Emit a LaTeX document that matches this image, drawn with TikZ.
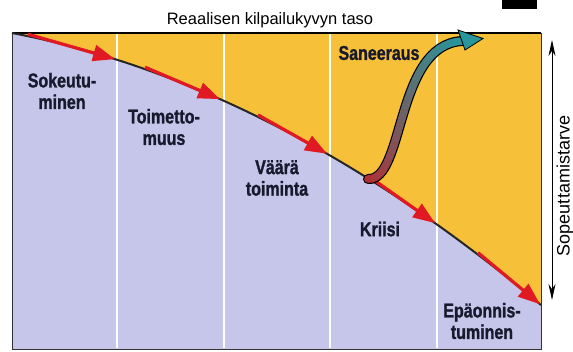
\documentclass[tikz,border=0pt]{standalone}
\usepackage{fontspec}
\setmainfont{Liberation Sans}
\newfontfamily\lblfont{Liberation Sans}[FakeStretch=0.8,FakeBold=1.2]
\newfontfamily\regfont{Liberation Sans}
\usetikzlibrary{arrows.meta}
\definecolor{bgyellow}{RGB}{246,192,56}
\definecolor{bglav}{RGB}{198,198,234}
\definecolor{arrred}{RGB}{225,25,35}
\definecolor{sanred}{RGB}{180,45,50}
\definecolor{santeal}{RGB}{40,150,155}
\definecolor{txtdark}{RGB}{25,25,45}
\tikzset{
  lbl/.style={font=\lblfont\bfseries\fontsize{20}{21.5}\selectfont, align=center, text=txtdark, inner sep=0pt},
  reglbl/.style={font=\regfont\fontsize{16.5}{18}\selectfont, text=black, inner sep=0pt},
  redarrow/.style={draw=arrred, line width=3.2pt, -{Triangle[length=22pt,width=16pt]}},
  colline/.style={white, line width=2pt}
}
\begin{document}
\begin{tikzpicture}[x=1pt,y=-1pt,
  declare function={cy(\t)=33+0.1906*(\t-12)+(0.02473*(\t-12))^2;}]
\useasboundingbox (0,0) rectangle (573,351);
\fill[white] (0,0) rectangle (573,351);
% page-number box (cut off)
\fill[black] (502,0) rectangle (537,9);
% backgrounds
\fill[bgyellow] (12,33) rectangle (541,349);
\fill[bglav] (12,33) -- plot[domain=12:541,samples=70] (\x,{cy(\x)}) -- (541,349) -- (12,349) -- cycle;
% column separators
\foreach \cx in {117,224,330,437} \draw[colline] (\cx,34) -- (\cx,348);
% frame
\draw[black!80, line width=0.8pt] (12,33) rectangle (541,349);
\draw[black, line width=1.6pt] (12,33) -- (541,33);
% decline curve
\draw[black!85, line width=2pt] plot[domain=12:541,samples=80] (\x,{cy(\x)});
% red arrows
\foreach \a/\b in {28/115, 145/220, 258/327, 376/435, 478/540}
  \draw[redarrow] (\a,{cy(\a)-2}) -- (\b,{cy(\b)});
% Saneeraus arrow
\draw[black, line width=10pt, line cap=round] (368,179) .. controls (405,181) and (395,45) .. (462,41);
\foreach \i in {0,...,29}{
  \pgfmathsetmacro\ta{\i/30}
  \pgfmathsetmacro\tb{(\i+1)/30}
  \pgfmathsetmacro\xa{(1-\ta)^3*368+3*(1-\ta)^2*\ta*405+3*(1-\ta)*\ta^2*395+\ta^3*462}
  \pgfmathsetmacro\ya{(1-\ta)^3*179+3*(1-\ta)^2*\ta*181+3*(1-\ta)*\ta^2*45+\ta^3*41}
  \pgfmathsetmacro\xb{(1-\tb)^3*368+3*(1-\tb)^2*\tb*405+3*(1-\tb)*\tb^2*395+\tb^3*462}
  \pgfmathsetmacro\yb{(1-\tb)^3*179+3*(1-\tb)^2*\tb*181+3*(1-\tb)*\tb^2*45+\tb^3*41}
  \pgfmathsetmacro\pc{100*(\i+0.5)/30}
  \draw[santeal!\pc!sanred, line width=7.6pt, line cap=round] (\xa,\ya) -- (\xb,\yb);
}
\filldraw[fill=santeal, draw=black, line width=0.8pt, line join=miter] (458,30) -- (483,38.5) -- (465,50) -- cycle;
% need-for-adaptation arrow
\draw[black, line width=0.8pt, {Stealth[length=16pt,width=7pt]}-{Stealth[length=16pt,width=7pt]}] (552,40) -- (552,300);
% texts
\node[reglbl] (title) at (270,20) {Reaalisen kilpailukyvyn taso};
\node[reglbl, rotate=90, font=\regfont\fontsize{18}{20}\selectfont] (side) at (565,186) {Sopeuttamistarve};
\node[lbl] (s1) at (62,91) {Sokeutu-\\minen};
\node[lbl] (s2) at (164,127) {Toimetto-\\muus};
\node[lbl] (s3) at (277,178) {Väärä\\toiminta};
\node[lbl] (s4) at (379,53) {Saneeraus};
\node[lbl] (s5) at (380,229) {Kriisi};
\node[lbl] (s6) at (482,321) {Epäonnis-\\tuminen};
\end{tikzpicture}
\end{document}
